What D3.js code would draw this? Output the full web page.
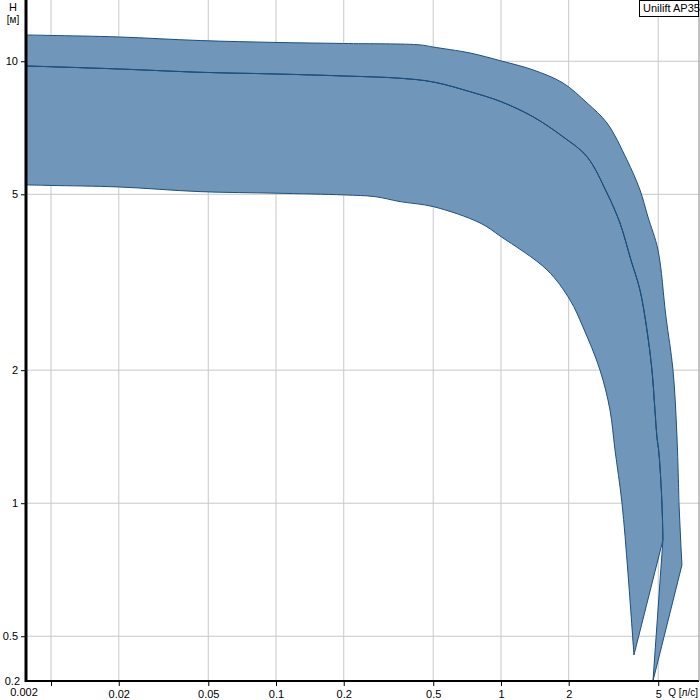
<!DOCTYPE html>
<html><head><meta charset="utf-8">
<script src="https://cdn.jsdelivr.net/npm/d3@7"></script>
<style>body{margin:0;background:#fff}svg{display:block}text{font-family:"Liberation Sans",Arial,sans-serif;font-size:11px;fill:#000}</style>
</head><body><svg id="c" width="700" height="700"></svg>
<script>
// axis extents and ticks
const xDomain = [0.00774, 7.59];
const yDomain = [0.396, 13.76];
const xTicks = [0.01, 0.02, 0.05, 0.1, 0.2, 0.5, 1, 2, 5];
const xTickLabels = ["", "0.02", "0.05", "0.1", "0.2", "0.5", "1", "2", "5"];
const yTicks = [0.5, 1, 2, 5, 10];
const yTickLabels = ["0.5", "1", "2", "5", "10"];
const xMinLabel = "0.002";
const yMinLabel = "0.2";
const legendLabel = "Unilift AP35";

// max speed curve (Q l/s, H m)
const maxQ = [0.00774, 0.0100, 0.0200, 0.0460, 0.100, 0.200, 0.4365, 0.499, 0.728, 1.00, 1.388, 1.886, 2.411, 2.959, 3.631, 4.148, 4.502, 4.987, 5.412, 5.815, 6.058, 6.183, 6.310, 6.375];
const maxH = [11.47, 11.44, 11.35, 11.14, 11.03, 10.97, 10.89, 10.77, 10.44, 10.02, 9.56, 8.93, 8.05, 7.25, 5.98, 5.115, 4.443, 3.742, 2.640, 2.003, 1.413, 1.0016, 0.797, 0.725];
// nominal curve
const midQ = [0.00774, 0.0200, 0.0460, 0.100, 0.200, 0.356, 0.499, 0.728, 1.00, 1.388, 1.886, 2.411, 2.959, 3.380, 3.782, 4.148, 4.457, 4.690, 4.836, 4.936, 5.038, 5.195, 5.248];
const midH = [9.759, 9.608, 9.443, 9.36, 9.264, 9.154, 8.98, 8.536, 8.104, 7.49, 6.75, 6.085, 5.035, 4.307, 3.552, 3.039, 2.466, 2.003, 1.626, 1.413, 1.2997, 1.0016, 0.826];
// min speed curve
const minQ = [0.00774, 0.0100, 0.0200, 0.0460, 0.100, 0.200, 0.275, 0.356, 0.499, 0.807, 1.00, 1.601, 2.026, 2.314, 2.754, 3.051, 3.212, 3.450, 3.668, 3.900];
const minH = [5.25, 5.236, 5.195, 5.07, 5.029, 4.984, 4.940, 4.813, 4.69, 4.307, 4.011, 3.373, 2.884, 2.505, 2.003, 1.626, 1.32, 1.0016, 0.6956, 0.4535];
// end tip of upper band
const tipQ = [4.738];
const tipH = [0.396];

const L = 26, R = 699, T = 0, B = 681;
const x = d3.scaleLog().domain(xDomain).range([L, R]);
const y = d3.scaleLog().domain(yDomain).range([B, T]);
const svg = d3.select("#c");

const zip = (a, b) => a.map((v, i) => [v, b[i]]);
const maxP = zip(maxQ, maxH), midP = zip(midQ, midH), minP = zip(minQ, minH), tipP = zip(tipQ, tipH);
const maxCurve = maxP.slice(0, maxP.length - 2), maxEnd = maxP.slice(maxP.length - 3);

// grid
svg.append("g").selectAll("line").data(xTicks).join("line")
  .attr("x1", d => x(d)).attr("x2", d => x(d)).attr("y1", T).attr("y2", B)
  .attr("stroke", "#c8c8c8").attr("stroke-width", 1);
svg.append("g").selectAll("line").data(yTicks).join("line")
  .attr("x1", L).attr("x2", R).attr("y1", d => y(d)).attr("y2", d => y(d))
  .attr("stroke", "#c8c8c8").attr("stroke-width", 1);

svg.append("clipPath").attr("id", "clip").append("rect").attr("x", L).attr("y", T).attr("width", R - L).attr("height", B - T);
const lineC = d3.line().x(d => x(d[0])).y(d => y(d[1])).curve(d3.curveCatmullRom.alpha(0.5));
const lineS = d3.line().x(d => x(d[0])).y(d => y(d[1]));
const cont = s => s.replace(/^M/, "L");
const g = svg.append("g").attr("clip-path", "url(#clip)");
const fill = "#7097ba", stroke = "#1d4f7c";
// lower band: min curve, straight closing to mid end, mid curve reversed
g.append("path").attr("d", lineC(minP) + cont(lineC(midP.slice().reverse())) + "Z")
  .attr("fill", fill).attr("stroke", stroke).attr("stroke-width", 1);
// upper band: mid curve, tip, max end (straight), max curve reversed
g.append("path").attr("d", lineC(midP) + cont(lineS(tipP.concat(maxEnd.slice().reverse()))) + cont(lineC(maxCurve.slice().reverse())) + "Z")
  .attr("fill", fill).attr("stroke", stroke).attr("stroke-width", 1);
g.append("path").attr("d", lineC(midP)).attr("fill", "none").attr("stroke", stroke).attr("stroke-width", 1);

// axes
const xAxis = d3.axisBottom(x).tickValues(xTicks).tickFormat((d, i) => xTickLabels[i]).tickSize(5).tickPadding(4);
const yAxis = d3.axisLeft(y).tickValues(yTicks).tickFormat((d, i) => yTickLabels[i]).tickSize(5).tickPadding(3);
const gx = svg.append("g").attr("transform", `translate(0,${B})`).call(xAxis);
const gy = svg.append("g").attr("transform", `translate(${L},0)`).call(yAxis);
[gx, gy].forEach(a => { a.selectAll("text").style("font-size", "11px").style("font-family", '"Liberation Sans",Arial,sans-serif'); a.select(".domain").remove(); a.selectAll(".tick line").attr("stroke", "#000"); });
gx.selectAll(".tick text").attr("dy", "0.71em");
svg.append("line").attr("x1", L).attr("x2", R).attr("y1", B).attr("y2", B).attr("stroke", "#000").attr("stroke-width", 2);
svg.append("line").attr("x1", L).attr("x2", L).attr("y1", T).attr("y2", B + 1).attr("stroke", "#000").attr("stroke-width", 3);
svg.append("text").attr("x", x(xDomain[0]) - 2).attr("y", 696).attr("text-anchor", "middle").text(xMinLabel);
svg.append("text").attr("x", 20).attr("y", y(yDomain[0]) + 4).attr("text-anchor", "end").text(yMinLabel);
svg.append("text").attr("x", x(5) + 10).attr("y", 696).style("font-size", "10px").text("Q [л/с]");
svg.append("text").attr("x", 13).attr("y", 11).attr("text-anchor", "middle").text("H");
svg.append("text").attr("x", 13).attr("y", 23).attr("text-anchor", "middle").style("font-size", "10px").text("[м]");
// frame right
svg.append("line").attr("x1", R).attr("x2", R).attr("y1", T).attr("y2", B).attr("stroke", "#888");
// legend
const lg = svg.append("g");
const lt = lg.append("text").attr("x", 643).attr("y", 12).text(legendLabel);
const bb = lt.node().getBBox();
lg.insert("rect", "text").attr("x", bb.x - 3.5).attr("y", 0.5).attr("width", 699 - bb.x + 3).attr("height", 16).attr("fill", "#fff").attr("stroke", "#000");
</script></body></html>
